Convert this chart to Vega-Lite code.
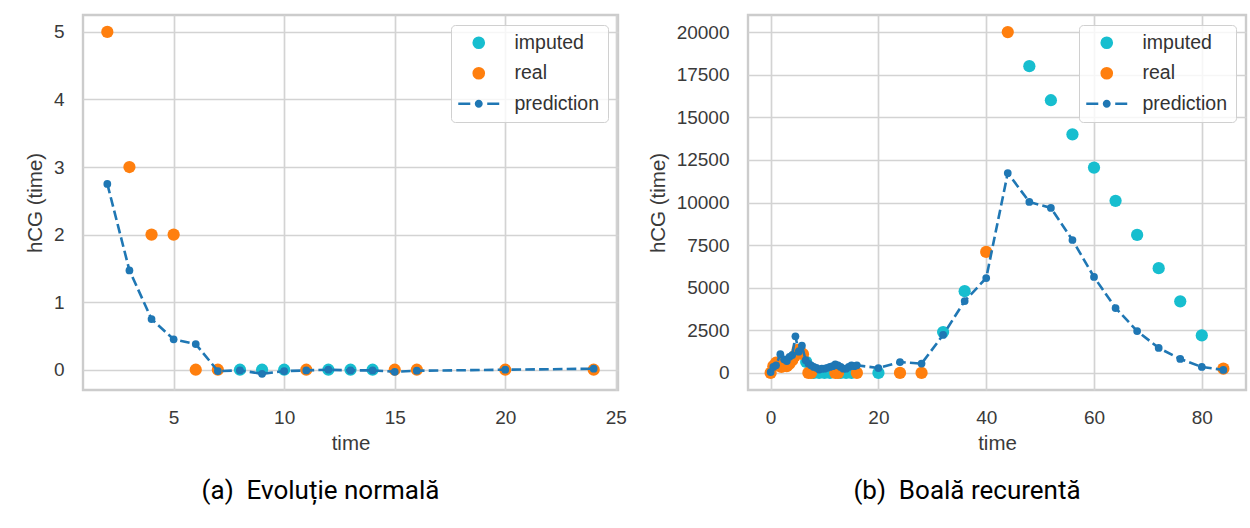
{
  "$schema": "https://vega.github.io/schema/vega-lite/v6.json",
  "background": "white",
  "padding": {"left": 24, "top": 13, "right": 0, "bottom": 0},
  "bounds": "flush",
  "spacing": 130,
  "resolve": {"scale": {"color": "independent", "shape": "independent"}},
  "config": {
    "view": {"stroke": "#cccccc", "strokeWidth": 2.4},
    "axis": {
      "domain": false, "ticks": false, "tickSize": 0,
      "labelFont": "Liberation Sans", "labelFontSize": 19, "labelColor": "#3a3a3a",
      "titleFont": "Liberation Sans", "titleFontSize": 20.5, "titleFontWeight": "normal", "titleColor": "#3a3a3a",
      "gridColor": "#d3d3d3", "gridWidth": 1.7
    },
    "axisX": {"labelPadding": 18, "titlePadding": 6},
    "axisY": {"labelPadding": 19, "titlePadding": 8},
    "legend": {
      "orient": "top-right", "offset": 10, "padding": 8,
      "symbolOffset": 10, "labelOffset": 26, "rowPadding": 9.5,
      "labelFont": "Liberation Sans", "labelFontSize": 19.5, "labelColor": "#333333",
      "fillColor": "rgba(255,255,255,0.8)", "strokeColor": "#d0d0d0", "cornerRadius": 4,
      "symbolSize": 160, "symbolStrokeWidth": 0, "title": null
    },
    "title": {"font": "Roboto", "fontSize": 26, "fontWeight": "normal", "color": "#000000"}
  },
  "datasets": {
    "a_pts": [
      {"t": 8, "v": 0, "series": "imputed"},
      {"t": 9, "v": 0, "series": "imputed"},
      {"t": 10, "v": 0, "series": "imputed"},
      {"t": 12, "v": 0, "series": "imputed"},
      {"t": 13, "v": 0, "series": "imputed"},
      {"t": 14, "v": 0, "series": "imputed"},
      {"t": 2, "v": 5, "series": "real"},
      {"t": 3, "v": 3, "series": "real"},
      {"t": 4, "v": 2, "series": "real"},
      {"t": 5, "v": 2, "series": "real"},
      {"t": 6, "v": 0, "series": "real"},
      {"t": 7, "v": 0, "series": "real"},
      {"t": 11, "v": 0, "series": "real"},
      {"t": 15, "v": 0, "series": "real"},
      {"t": 16, "v": 0, "series": "real"},
      {"t": 20, "v": 0, "series": "real"},
      {"t": 24, "v": 0, "series": "real"}
    ],
    "a_pred": [
      {"t": 2, "v": 2.75}, {"t": 3, "v": 1.47}, {"t": 4, "v": 0.75}, {"t": 5, "v": 0.45},
      {"t": 6, "v": 0.38}, {"t": 7, "v": -0.02}, {"t": 8, "v": -0.01}, {"t": 9, "v": -0.06},
      {"t": 10, "v": -0.02}, {"t": 11, "v": -0.01}, {"t": 12, "v": 0.0}, {"t": 13, "v": -0.01},
      {"t": 14, "v": -0.01}, {"t": 15, "v": -0.03}, {"t": 16, "v": -0.015}, {"t": 20, "v": 0.0},
      {"t": 24, "v": 0.015}
    ],
    "b_pts": [
      {"t": 6.6, "v": 650, "series": "imputed"},
      {"t": 8, "v": 0, "series": "imputed"},
      {"t": 9, "v": 0, "series": "imputed"},
      {"t": 10, "v": 0, "series": "imputed"},
      {"t": 11, "v": 0, "series": "imputed"},
      {"t": 13, "v": 0, "series": "imputed"},
      {"t": 14, "v": 0, "series": "imputed"},
      {"t": 15, "v": 0, "series": "imputed"},
      {"t": 20, "v": 0, "series": "imputed"},
      {"t": 32, "v": 2400, "series": "imputed"},
      {"t": 36, "v": 4800, "series": "imputed"},
      {"t": 48, "v": 18000, "series": "imputed"},
      {"t": 52, "v": 16000, "series": "imputed"},
      {"t": 56, "v": 14000, "series": "imputed"},
      {"t": 60, "v": 12050, "series": "imputed"},
      {"t": 64, "v": 10100, "series": "imputed"},
      {"t": 68, "v": 8100, "series": "imputed"},
      {"t": 72, "v": 6150, "series": "imputed"},
      {"t": 76, "v": 4200, "series": "imputed"},
      {"t": 80, "v": 2200, "series": "imputed"},
      {"t": 0, "v": 0, "series": "real"},
      {"t": 0.5, "v": 400, "series": "real"},
      {"t": 1, "v": 600, "series": "real"},
      {"t": 1.5, "v": 550, "series": "real"},
      {"t": 2, "v": 350, "series": "real"},
      {"t": 2.5, "v": 450, "series": "real"},
      {"t": 3, "v": 400, "series": "real"},
      {"t": 3.5, "v": 550, "series": "real"},
      {"t": 4, "v": 750, "series": "real"},
      {"t": 4.5, "v": 1000, "series": "real"},
      {"t": 5, "v": 1350, "series": "real"},
      {"t": 5.5, "v": 1250, "series": "real"},
      {"t": 6, "v": 1100, "series": "real"},
      {"t": 7, "v": 0, "series": "real"},
      {"t": 7.5, "v": 0, "series": "real"},
      {"t": 12, "v": 0, "series": "real"},
      {"t": 12.5, "v": 0, "series": "real"},
      {"t": 16, "v": 0, "series": "real"},
      {"t": 24, "v": 0, "series": "real"},
      {"t": 28, "v": 0, "series": "real"},
      {"t": 40, "v": 7100, "series": "real"},
      {"t": 44, "v": 20000, "series": "real"},
      {"t": 84, "v": 250, "series": "real"}
    ],
    "b_pred": [
      {"t": 0, "v": 50}, {"t": 0.5, "v": 350}, {"t": 1, "v": 450}, {"t": 1.8, "v": 1100},
      {"t": 2.5, "v": 800}, {"t": 3, "v": 700}, {"t": 3.5, "v": 950}, {"t": 4, "v": 1050},
      {"t": 4.6, "v": 2150}, {"t": 5.2, "v": 1250}, {"t": 5.8, "v": 1600}, {"t": 6.5, "v": 750},
      {"t": 7, "v": 550}, {"t": 7.5, "v": 450}, {"t": 8, "v": 350}, {"t": 8.5, "v": 300},
      {"t": 9, "v": 200}, {"t": 9.5, "v": 250}, {"t": 10, "v": 250}, {"t": 10.5, "v": 300},
      {"t": 11, "v": 350}, {"t": 11.5, "v": 400}, {"t": 12, "v": 500}, {"t": 12.5, "v": 450},
      {"t": 13, "v": 350}, {"t": 13.5, "v": 250}, {"t": 14, "v": 250}, {"t": 14.5, "v": 350},
      {"t": 15, "v": 450}, {"t": 15.5, "v": 400}, {"t": 16, "v": 450}, {"t": 20, "v": 290},
      {"t": 24, "v": 640}, {"t": 28, "v": 550}, {"t": 32, "v": 2230}, {"t": 36, "v": 4220},
      {"t": 40, "v": 5570}, {"t": 44, "v": 11730}, {"t": 48, "v": 10030}, {"t": 52, "v": 9680},
      {"t": 56, "v": 7800}, {"t": 60, "v": 5630}, {"t": 64, "v": 3810}, {"t": 68, "v": 2460},
      {"t": 72, "v": 1470}, {"t": 76, "v": 820}, {"t": 80, "v": 350}, {"t": 84, "v": 180}
    ]
  },
  "hconcat": [
    {
      "width": 535,
      "height": 375,
      "title": {"text": "(a)\u00a0 Evoluție normală", "orient": "bottom", "anchor": "middle", "frame": "group", "dx": -30, "offset": 24},
      "layer": [
        {
          "data": {"name": "a_pts"},
          "mark": {"type": "point", "filled": true, "opacity": 1, "size": 150},
          "encoding": {
            "x": {"field": "t", "type": "quantitative", "scale": {"domain": [0.9, 25.1], "nice": false, "zero": false}, "axis": {"values": [5, 10, 15, 20, 25], "format": "d", "title": "time"}},
            "y": {"field": "v", "type": "quantitative", "scale": {"domain": [-0.3, 5.25], "nice": false, "zero": false}, "axis": {"values": [0, 1, 2, 3, 4, 5], "format": "d", "title": "hCG (time)"}},
            "color": {"field": "series", "type": "nominal", "scale": {"domain": ["imputed", "real", "prediction"], "range": ["#17becf", "#ff7f0e", "#1f77b4"]}},
            "shape": {"field": "series", "type": "nominal", "scale": {"domain": ["imputed", "real", "prediction"], "range": ["circle", "circle", "M-3.24,-0.2H-1.34V0.2H-3.24Z M1.34,-0.2H3.24V0.2H1.34Z M-0.63,0A0.63,0.63,0,1,1,0.63,0A0.63,0.63,0,1,1,-0.63,0Z"]}}
          }
        },
        {
          "data": {"name": "a_pred"},
          "mark": {"type": "line", "color": "#1f77b4", "strokeWidth": 2.6, "strokeDash": [9.6, 4.2]},
          "encoding": {
            "x": {"field": "t", "type": "quantitative", "scale": {"domain": [0.9, 25.1], "nice": false, "zero": false}},
            "y": {"field": "v", "type": "quantitative", "scale": {"domain": [-0.3, 5.25], "nice": false, "zero": false}}
          }
        },
        {
          "data": {"name": "a_pred"},
          "mark": {"type": "point", "filled": true, "opacity": 1, "color": "#1f77b4", "size": 60},
          "encoding": {
            "x": {"field": "t", "type": "quantitative", "scale": {"domain": [0.9, 25.1], "nice": false, "zero": false}},
            "y": {"field": "v", "type": "quantitative", "scale": {"domain": [-0.3, 5.25], "nice": false, "zero": false}}
          }
        }
      ]
    },
    {
      "width": 498,
      "height": 375,
      "title": {"text": "(b)\u00a0 Boală recurentă", "orient": "bottom", "anchor": "middle", "frame": "group", "dx": -30, "offset": 24},
      "layer": [
        {
          "data": {"name": "b_pts"},
          "mark": {"type": "point", "filled": true, "opacity": 1, "size": 150},
          "encoding": {
            "x": {"field": "t", "type": "quantitative", "scale": {"domain": [-4.2, 88.2], "nice": false, "zero": false}, "axis": {"values": [0, 20, 40, 60, 80], "format": "d", "title": "time"}},
            "y": {"field": "v", "type": "quantitative", "scale": {"domain": [-1000, 21000], "nice": false, "zero": false}, "axis": {"values": [0, 2500, 5000, 7500, 10000, 12500, 15000, 17500, 20000], "format": "d", "title": "hCG (time)"}},
            "color": {"field": "series", "type": "nominal", "scale": {"domain": ["imputed", "real", "prediction"], "range": ["#17becf", "#ff7f0e", "#1f77b4"]}},
            "shape": {"field": "series", "type": "nominal", "scale": {"domain": ["imputed", "real", "prediction"], "range": ["circle", "circle", "M-3.24,-0.2H-1.34V0.2H-3.24Z M1.34,-0.2H3.24V0.2H1.34Z M-0.63,0A0.63,0.63,0,1,1,0.63,0A0.63,0.63,0,1,1,-0.63,0Z"]}}
          }
        },
        {
          "data": {"name": "b_pred"},
          "mark": {"type": "line", "color": "#1f77b4", "strokeWidth": 2.6, "strokeDash": [9.6, 4.2]},
          "encoding": {
            "x": {"field": "t", "type": "quantitative", "scale": {"domain": [-4.2, 88.2], "nice": false, "zero": false}},
            "y": {"field": "v", "type": "quantitative", "scale": {"domain": [-1000, 21000], "nice": false, "zero": false}}
          }
        },
        {
          "data": {"name": "b_pred"},
          "mark": {"type": "point", "filled": true, "opacity": 1, "color": "#1f77b4", "size": 60},
          "encoding": {
            "x": {"field": "t", "type": "quantitative", "scale": {"domain": [-4.2, 88.2], "nice": false, "zero": false}},
            "y": {"field": "v", "type": "quantitative", "scale": {"domain": [-1000, 21000], "nice": false, "zero": false}}
          }
        }
      ]
    }
  ]
}
